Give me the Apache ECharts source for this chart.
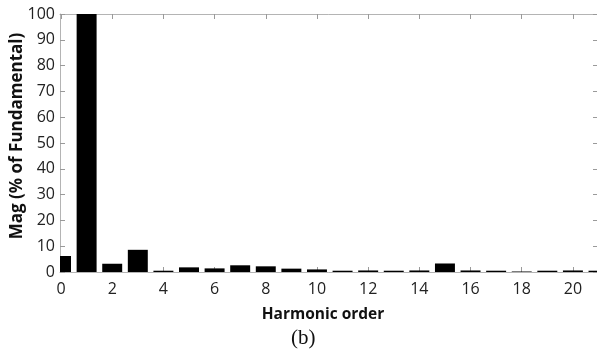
<!DOCTYPE html>
<html>
<head>
<meta charset="utf-8">
<script src="https://cdn.jsdelivr.net/npm/echarts@6/dist/echarts.min.js"></script>
<style>
  html, body { margin: 0; padding: 0; background: #fff; }
  #chart { width: 597px; height: 358px; }
</style>
</head>
<body>
<div id="chart"></div>
<script>
// Harmonic orders 0..21 and their magnitudes (% of fundamental)
const harmonicOrders = [0, 1, 2, 3, 4, 5, 6, 7, 8, 9, 10, 11, 12, 13, 14, 15, 16, 17, 18, 19, 20, 21];
const magnitudes = [6.2, 100, 3.2, 8.6, 0.5, 1.8, 1.4, 2.6, 2.2, 1.3, 1.0, 0.5, 0.6, 0.5, 0.6, 3.3, 0.6, 0.5, 0.2, 0.5, 0.6, 0.5];
const xTickValues = [0, 2, 4, 6, 8, 10, 12, 14, 16, 18, 20];

const labelFont = '"Open Sans", Lato, sans-serif';
const frameColor = '#b4b4b4';
const barWidthUnits = 0.78;
const tickStyle = { show: true, inside: true, length: 5, lineStyle: { color: '#9a9a9a', width: 1 } };

const chart = echarts.init(document.getElementById('chart'), null, { renderer: 'canvas' });

// Each bar is a rectangle from the baseline up to its value, sized in axis units.
function renderBar(params, api) {
  const x = api.value(0);
  const v = api.value(1);
  const base = api.coord([x, 0]);
  const top = api.coord([x, v]);
  const w = api.size([barWidthUnits, 0])[0];
  const rect = echarts.graphic.clipRectByRect(
    { x: base[0] - w / 2, y: top[1], width: w, height: base[1] - top[1] },
    { x: params.coordSys.x, y: params.coordSys.y, width: params.coordSys.width, height: params.coordSys.height }
  );
  if (!rect) return null;
  return { type: 'rect', shape: rect, style: { fill: '#000000' } };
}

chart.setOption({
  animation: false,
  backgroundColor: '#ffffff',
  grid: { left: 60, right: -1, top: 14, bottom: 86, containLabel: false, outerBoundsMode: 'none' },
  xAxis: [
    {
      type: 'value',
      position: 'bottom',
      min: -0.04,
      max: 20.98,
      splitLine: { show: false },
      axisLine: { show: true, onZero: false, lineStyle: { color: frameColor, width: 1 } },
      axisTick: Object.assign({ customValues: xTickValues }, tickStyle),
      axisLabel: {
        customValues: xTickValues,
        margin: 9,
        fontFamily: labelFont,
        fontSize: 16,
        color: '#222'
      },
      name: 'Harmonic order',
      nameLocation: 'middle',
      nameGap: 35,
      nameMoveOverlap: false,
      nameTextStyle: { fontFamily: labelFont, fontWeight: 'bold', fontSize: 15.5, color: '#111', padding: [0, 12, 0, 0] }
    },
    {
      type: 'value',
      position: 'top',
      min: -0.04,
      max: 20.98,
      splitLine: { show: false },
      axisLine: { show: true, onZero: false, lineStyle: { color: frameColor, width: 1 } },
      axisTick: Object.assign({ customValues: xTickValues }, tickStyle),
      axisLabel: { show: false }
    }
  ],
  yAxis: [
    {
      type: 'value',
      position: 'left',
      min: 0,
      max: 100,
      interval: 10,
      splitLine: { show: false },
      axisLine: { show: true, onZero: false, lineStyle: { color: frameColor, width: 1 } },
      axisTick: tickStyle,
      axisLabel: {
        margin: 5,
        fontFamily: labelFont,
        fontSize: 16,
        color: '#222'
      },
      name: 'Mag (% of Fundamental)',
      nameLocation: 'middle',
      nameRotate: 90,
      nameGap: 34,
      nameMoveOverlap: false,
      nameTextStyle: { fontFamily: labelFont, fontWeight: 'bold', fontSize: 17, color: '#111', padding: [0, 0, 0, 14] }
    },
    {
      type: 'value',
      position: 'right',
      min: 0,
      max: 100,
      interval: 10,
      splitLine: { show: false },
      axisLine: { show: true, onZero: false, lineStyle: { color: frameColor, width: 1 } },
      axisTick: tickStyle,
      axisLabel: { show: false }
    }
  ],
  series: [
    {
      type: 'custom',
      xAxisIndex: 0,
      yAxisIndex: 0,
      renderItem: renderBar,
      encode: { x: 0, y: 1 },
      data: harmonicOrders.map((h, i) => [h, magnitudes[i]])
    }
  ],
  graphic: [
    {
      type: 'text',
      left: 291,
      top: 328,
      style: { text: '(b)', font: '21px "Liberation Serif", "Times New Roman", serif', fill: '#111' }
    }
  ]
});
</script>
</body>
</html>
